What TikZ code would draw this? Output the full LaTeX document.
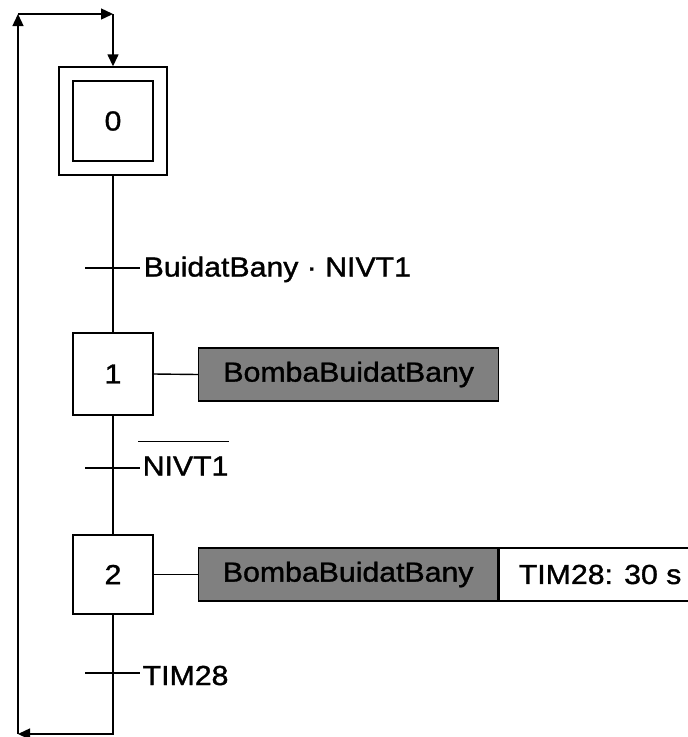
\documentclass[tikz,border=0pt]{standalone}
\usepackage{fontspec}
\setmainfont{Liberation Sans}[FakeStretch=1.1, FakeBold=1.3]
\usetikzlibrary{arrows.meta}
\definecolor{actgray}{RGB}{128,128,128}
\begin{document}
\begin{tikzpicture}[x=1pt,y=1pt,
  line width=1.4pt,
  every node/.style={font=\fontsize{27.5}{32}\selectfont},
  stepbox/.style={draw, fill=white, minimum width=80pt, minimum height=80pt, inner sep=0pt},
  actbox/.style={draw, fill=actgray, minimum height=53pt, inner sep=0pt, anchor=west},
  timebox/.style={draw, fill=white, minimum height=53pt, inner sep=0pt, anchor=west},
  translabel/.style={anchor=base west, inner sep=0pt},
  arr/.style={-{Triangle[length=12pt,width=11pt]}}]
\useasboundingbox (0,0) rectangle (688,-737);
\clip (0,0) rectangle (688,-737);
\fill[white] (0,0) rectangle (688,-737);

% steps
\node[stepbox, minimum width=108pt, minimum height=108pt] (s0o) at (113,-121) {};
\node[stepbox] (s0) at (113,-121) {0};
\node[stepbox, minimum height=82pt] (s1) at (113,-374) {1};
\node[stepbox, minimum height=79pt] (s2) at (113,-574.5) {2};

% actions
\node[actbox, minimum width=300pt] (a1) at (198,-374.5) {BombaBuidatBany};
\node[actbox, minimum width=299pt] (a2) at (198,-574.5) {BombaBuidatBany};
\node[timebox, minimum width=202pt] (a3) at (a2.east) {TIM28: 30 s};

% transitions
\coordinate (t1a) at (85,-268);
\coordinate (t1b) at (140,-268);
\coordinate (t2a) at (85,-468);
\coordinate (t2b) at (140,-468);
\coordinate (t3a) at (85,-673);
\coordinate (t3b) at (140,-673);
\node[translabel] (l1) at (143,-276.5) {BuidatBany · NIVT1};
\node[translabel] (l2) at (142,-475.5) {NIVT1};
\node[translabel] (l3) at (142,-685) {TIM28};

% loop coordinates
\coordinate (bl) at (18,-734);
\coordinate (tl) at (18,-14);
\coordinate (tr) at (113,-14);

% connectors
\draw (s0o.south) -- (s1.north);
\draw (s1.south) -- (s2.north);
\draw[arr] (s2.south) |- (bl);
\draw[arr] (bl) -- (tl);
\draw[arr] (tl) -- (tr);
\draw[arr] (tr) -- (s0o.north);
\draw (t1a) -- (t1b);
\draw (t2a) -- (t2b);
\draw (t3a) -- (t3b);
\draw (s1.east) -- (a1.west);
\draw (s2.east) -- (a2.west);
\draw ([shift={(-4,34)}]l2.base west) -- ([shift={(0,34)}]l2.base east);
\end{tikzpicture}
\end{document}
